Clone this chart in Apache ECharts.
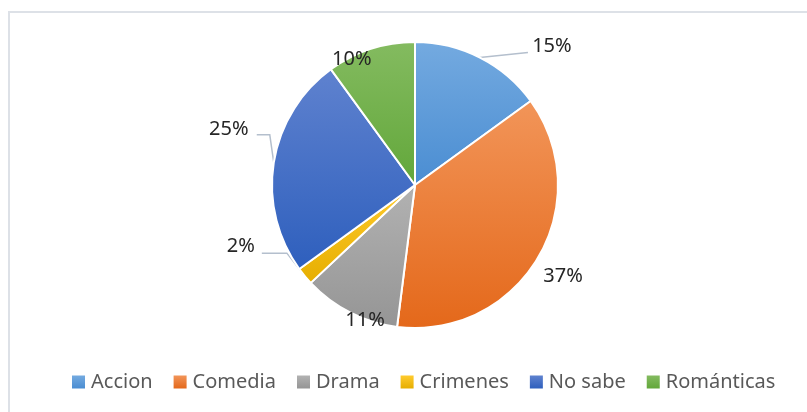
<!DOCTYPE html>
<html lang="es">
<head>
<meta charset="UTF-8">
<title>Géneros</title>
<script src="https://cdn.jsdelivr.net/npm/echarts@6/dist/echarts.min.js"></script>
<style>
  html, body { margin: 0; padding: 0; background: #fff; }
  #main { position: absolute; left: 0; top: 0; width: 807px; height: 412px; }
  #frame { position: absolute; left: 8px; top: 11px; right: 0; bottom: -4px;
           border: 2px solid #dde1e7; border-right: none; border-bottom: none; }
</style>
</head>
<body>
<div id="frame"></div>
<div id="main"></div>
<script type="text/javascript">
    // datos
    var categories = ['Accion', 'Comedia', 'Drama', 'Crimenes', 'No sabe', 'Románticas'];
    var values = [15, 37, 11, 2, 25, 10];

    // colores (arriba / abajo del degradado)
    var topColors = ['#74aae0', '#f29559', '#b2b2b2', '#ffcb2e', '#5f82cf', '#84bb60'];
    var bottomColors = ['#4a8dd2', '#e4681a', '#959595', '#e6ae00', '#2e5fbd', '#62a73a'];

    // donde va cada etiqueta, respecto al borde del sector
    var labelShift = [[72, -11], [25, 19], [15, 8], [-64, -30], [-45, -33], [-19, 10]];
    // puntos de la linea guia, respecto al centro de la etiqueta (null = sin linea)
    var leader = [
        [[-24, 6]],
        null,
        null,
        [[46, 7], [21, 7]],
        [[41, 5], [28, 5]],
        null
    ];

    var cx = 415, cy = 185, R = 143;
    var total = values.reduce(function (a, b) { return a + b; }, 0);

    function edgePoint(i) {
        var before = 0;
        for (var k = 0; k < i; k++) before += values[k];
        var a = (before + values[i] / 2) / total * Math.PI * 2;
        return [cx + R * Math.sin(a), cy - R * Math.cos(a)];
    }

    var pieData = categories.map(function (name, i) {
        return {
            name: name,
            value: values[i],
            itemStyle: {
                color: new echarts.graphic.LinearGradient(0, 0, 0, 1, [
                    {offset: 0, color: topColors[i]},
                    {offset: 1, color: bottomColors[i]}
                ])
            },
            labelLine: {show: !!leader[i]}
        };
    });

    var myChart = echarts.init(document.getElementById('main'));
    var option = {
        animation: false,
        legend: {
            data: categories,
            left: 67,
            top: 367,
            itemWidth: 13,
            itemHeight: 13,
            itemGap: 21,
            icon: 'rect',
            itemStyle: {borderWidth: 0},
            textStyle: {
                fontFamily: 'Noto Sans',
                fontSize: 20,
                color: '#595959',
                padding: [0, 0, 0, 1]
            }
        },
        series: [
            {
                type: 'pie',
                center: [cx, cy],
                radius: R,
                startAngle: 90,
                clockwise: true,
                data: pieData,
                itemStyle: {borderColor: '#fff', borderWidth: 2},
                label: {
                    show: true,
                    position: 'outside',
                    formatter: '{d}%',
                    fontFamily: 'Noto Sans',
                    fontSize: 20,
                    color: '#262626'
                },
                labelLine: {
                    show: true,
                    length: 10,
                    length2: 10,
                    lineStyle: {color: '#b4bfcd', width: 1.5}
                },
                labelLayout: function (params) {
                    var i = params.dataIndex;
                    var p = edgePoint(i);
                    var lx = p[0] + labelShift[i][0];
                    var ly = p[1] + labelShift[i][1];
                    var out = {x: lx, y: ly, align: 'center', verticalAlign: 'middle'};
                    if (leader[i]) {
                        var pts = [p];
                        for (var j = 0; j < leader[i].length; j++) {
                            pts.push([lx + leader[i][j][0], ly + leader[i][j][1]]);
                        }
                        if (pts.length === 2) pts.splice(1, 0, pts[1].slice());
                        out.labelLinePoints = pts;
                    }
                    return out;
                }
            }
        ]
    };
    myChart.setOption(option);
</script>
</body>
</html>
